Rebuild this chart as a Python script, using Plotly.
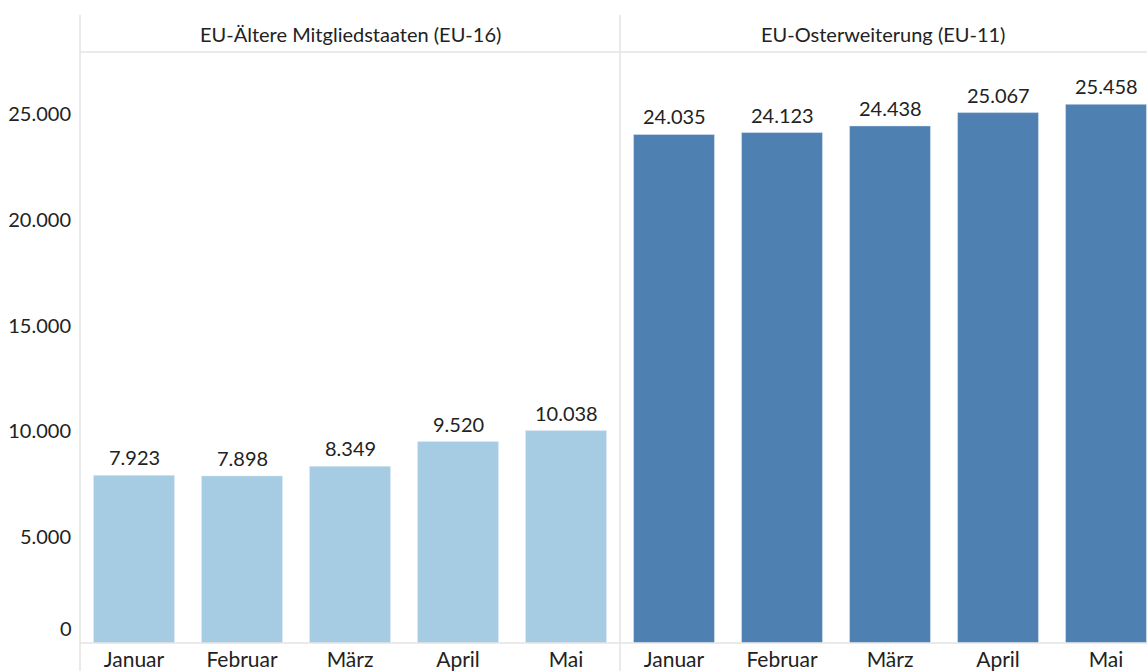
import plotly.graph_objects as go

months = ["Januar", "Februar", "März", "April", "Mai"]
panel_titles = ["EU-Ältere Mitgliedstaaten (EU-16)", "EU-Osterweiterung (EU-11)"]
eu16 = [7923, 7898, 8349, 9520, 10038]
eu11 = [24035, 24123, 24438, 25067, 25458]
y_ticks = [5000, 10000, 15000, 20000, 25000]

light = "#a6cce4"
dark = "#4e81b1"
line_c = "#e3e3e3"
txt_c = "#222222"
FONT = "Lato"

W, H = 1147, 671
L, R, T, B = 80, 0, 52, 28
pw = W - L - R
ph = H - T - B
split = 540 / pw

def fmt(v):
    return f"{v:,}".replace(",", ".")

fig = go.Figure()
fig.add_trace(go.Bar(x=months, y=eu16, marker_color=light, width=0.75,
                     xaxis="x", yaxis="y", hoverinfo="skip"))
fig.add_trace(go.Bar(x=months, y=eu11, marker_color=dark, width=0.75,
                     xaxis="x2", yaxis="y", hoverinfo="skip"))

for xa, vals in (("x", eu16), ("x2", eu11)):
    for m, v in zip(months, vals):
        fig.add_annotation(xref=xa, yref="y", x=m, y=v, text=fmt(v), showarrow=False,
                           xanchor="center", yanchor="bottom", yshift=4,
                           font=dict(size=20, color=txt_c, family=FONT))

right_px = pw - 540
fig.update_layout(
    width=W, height=H, margin=dict(l=L, r=R, t=T, b=B, autoexpand=False),
    paper_bgcolor="white", plot_bgcolor="white",
    separators=",.", showlegend=False,
    font=dict(family=FONT, size=20, color=txt_c),
    xaxis=dict(domain=[0, split], range=[-0.5, 4.5], showgrid=False, zeroline=False,
               showline=False, ticks="", ticklabelstandoff=2, automargin=False,
               tickfont=dict(size=21, color=txt_c)),
    xaxis2=dict(domain=[split, 1], range=[-0.5, -0.5 + 5 * right_px / 540],
                showgrid=False, zeroline=False, showline=False, ticks="", automargin=False,
                ticklabelstandoff=2, tickfont=dict(size=21, color=txt_c)),
    yaxis=dict(range=[0, 27930], tickvals=y_ticks, tickformat=",", showgrid=False,
               zeroline=False, showline=False, ticks="", ticklabelstandoff=8, automargin=False,
               tickfont=dict(size=20, color=txt_c)),
)

# zero label sits just above the baseline
fig.add_annotation(xref="paper", yref="y", x=0, y=0, text="0", showarrow=False,
                   xanchor="right", yanchor="bottom", xshift=-6, yshift=1,
                   font=dict(size=20, color=txt_c, family=FONT))

y_top = (ph + (T - 15)) / ph
y_bot = -B / ph
for xp in [0, split]:
    fig.add_shape(type="line", xref="paper", yref="paper", x0=xp, x1=xp, y0=y_bot, y1=y_top,
                  line=dict(color=line_c, width=1.5))
for yp in [0, 1]:
    fig.add_shape(type="line", xref="paper", yref="paper", x0=0, x1=1, y0=yp, y1=yp,
                  line=dict(color=line_c, width=1.5))

centers = [split / 2, (split + 1) / 2]
for c, t in zip(centers, panel_titles):
    fig.add_annotation(xref="paper", yref="paper", x=c, y=(1 + y_top) / 2, text=t,
                       showarrow=False, font=dict(size=20, color=txt_c, family=FONT),
                       xanchor="center", yanchor="middle")

fig.write_html("out.html", config={"displayModeBar": False},
               post_script="document.body.style.margin='0';document.body.style.overflow='hidden';")
